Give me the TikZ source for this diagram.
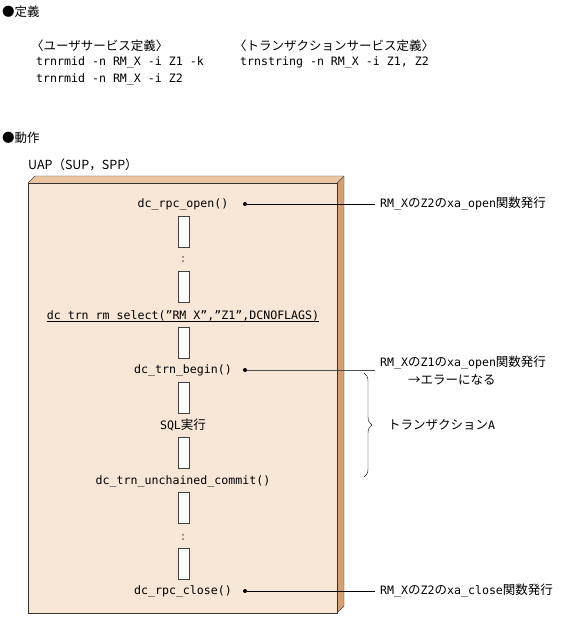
\documentclass[tikz,border=0pt]{standalone}
\usepackage{fontspec}
\setmainfont{Noto Sans CJK JP}
\newfontfamily\cdmono{DejaVu Sans Mono}
\usetikzlibrary{decorations.pathreplacing}

\definecolor{boxfront}{RGB}{248,230,214}
\definecolor{boxtop}{RGB}{236,198,162}
\definecolor{boxside}{RGB}{212,160,112}

\newcommand{\cd}[1]{{\cdmono\fontsize{11.6}{13}\selectfont #1}}

\tikzset{
  jtext/.style={font=\fontsize{12.5}{15}\selectfont, inner sep=0pt},
  cdtext/.style={font=\cdmono\fontsize{11.6}{13}\selectfont, inner sep=0pt},
  callbar/.style={draw=black!75, fill=white, line width=0.6pt,
    minimum width=11pt, minimum height=31pt, inner sep=0pt},
  callpt/.style={circle, fill=black, minimum size=4pt, inner sep=0pt},
  lead/.style={line width=0.6pt}
}

\begin{document}
\begin{tikzpicture}[x=1pt,y=-1pt]
\useasboundingbox (0,0) rectangle (568,617);

% 定義
\node[jtext,anchor=west] (defhead) at (2,12) {●定義};
\node[jtext,anchor=west] (usrhead) at (31,46) {〈ユーザサービス定義〉};
\node[cdtext,anchor=west] (usr1) at (36,62) {trnrmid -n RM\_X -i Z1 -k};
\node[cdtext,anchor=west] (usr2) at (36,79) {trnrmid -n RM\_X -i Z2};
\node[jtext,anchor=west] (trnhead) at (234,46) {〈トランザクションサービス定義〉};
\node[cdtext,anchor=west] (trn1) at (240,62) {trnstring -n RM\_X -i Z1, Z2};

% 動作
\node[jtext,anchor=west] (acthead) at (2,138) {●動作};
\node[jtext,anchor=west] (uap) at (28,165) {UAP（SUP，SPP）};

% UAP box
\fill[boxtop] (28,183) -- (35,176) -- (344,176) -- (337,183) -- cycle;
\fill[boxside] (337,183) -- (344,176) -- (344,606) -- (337,613) -- cycle;
\draw[fill=boxfront, draw=black!80] (28,183) rectangle (337,613);
\draw[black!75] (28,183) -- (35,176) -- (344,176) -- (344,606) -- (337,613);
\draw[black!75] (337,183) -- (344,176);

% calls
\node[cdtext] (open) at (183,204) {dc\_rpc\_open()};
\node[cdtext] (sel) at (183,316) {dc\_trn\_rm\_select(”RM\_X”,”Z1”,DCNOFLAGS)};
\draw[lead] ([yshift=-2pt]sel.base west) -- ([yshift=-2pt]sel.base east);
\node[cdtext] (begin) at (183,370) {dc\_trn\_begin()};
\node[jtext] (sql) at (183,425) {\cd{SQL}実行};
\node[cdtext] (commit) at (183,481) {dc\_trn\_unchained\_commit()};
\node[cdtext] (close) at (183,591) {dc\_rpc\_close()};
\node[cdtext,black!60] (gap1) at (183,259) {:};
\node[cdtext,black!60] (gap2) at (183,537) {:};

\foreach \y [count=\i] in {232,287,342.5,397.5,452.5,508,563.5}
  \node[callbar] (bar\i) at (183.5,\y) {};

% xa関数の発行
\node[callpt] (openpt) at (245,204) {};
\node[callpt] (beginpt) at (245,370) {};
\node[callpt] (closept) at (245,591) {};

\node[jtext,anchor=west] (openlbl) at (380,204) {\cd{RM\_X}の\cd{Z2}の\cd{xa\_open}関数発行};
\node[jtext,anchor=west] (beginlbl) at (380,363) {\cd{RM\_X}の\cd{Z1}の\cd{xa\_open}関数発行};
\node[jtext,anchor=west] (errlbl) at (408,380) {→エラーになる};
\node[jtext,anchor=west] (closelbl) at (380,591) {\cd{RM\_X}の\cd{Z2}の\cd{xa\_close}関数発行};

\draw[lead] (openpt) -- ([xshift=-5pt]openlbl.west);
\draw[lead,black!70] (beginpt) -- ([xshift=-5pt]beginpt -| beginlbl.west);
\draw[lead] (closept) -- ([xshift=-5pt]closelbl.west);

% トランザクション
\coordinate (trntop) at (364,373);
\coordinate (trnbot) at (364,477);
\draw[decorate,decoration={brace,amplitude=8pt}] (trntop) -- (trnbot);
\node[jtext,anchor=west] (trnlbl) at (388,425) {トランザクション\cd{A}};
\end{tikzpicture}
\end{document}
